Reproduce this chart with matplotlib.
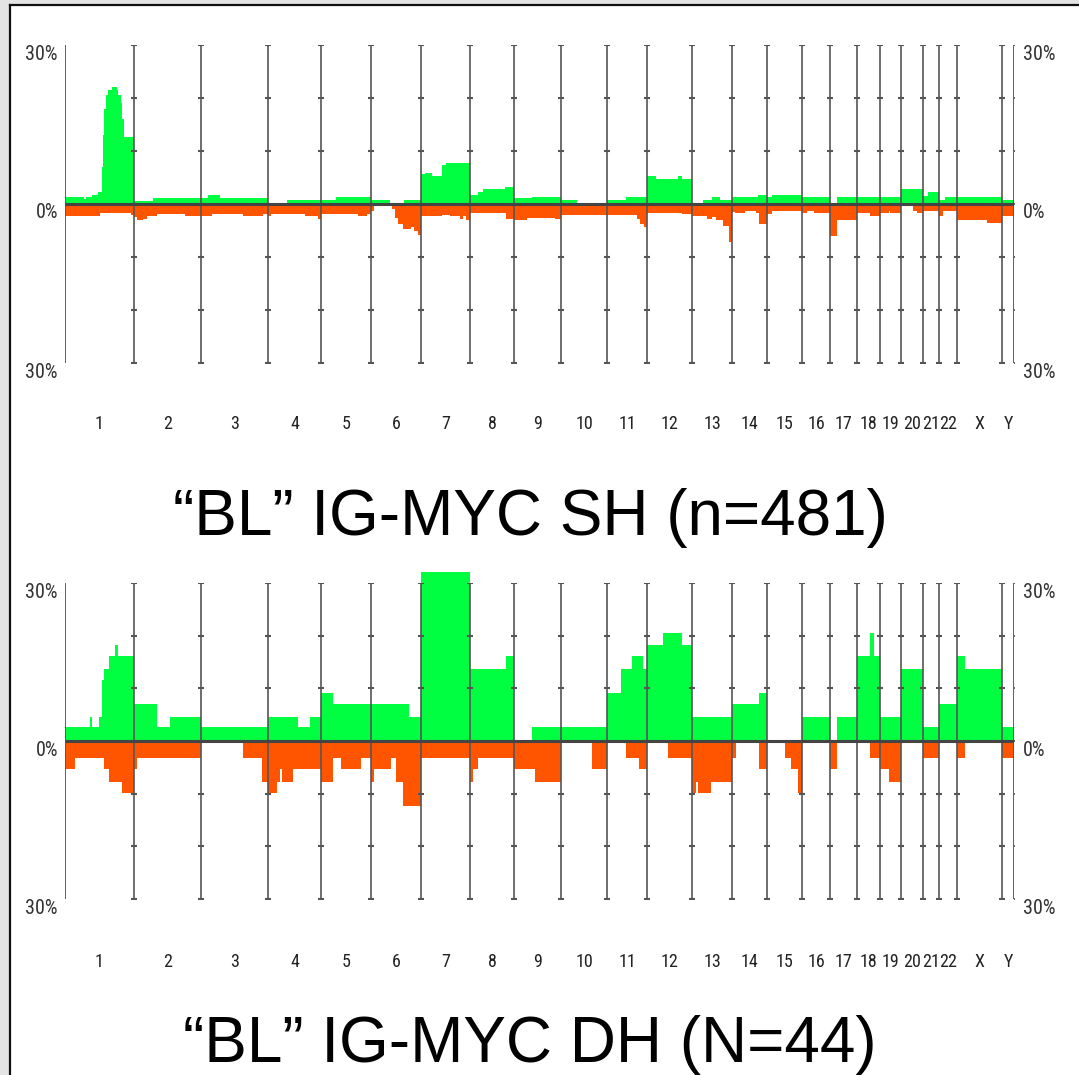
import matplotlib
matplotlib.use('Agg')
import matplotlib.pyplot as plt
import matplotlib.transforms as mtransforms
from matplotlib.patches import Rectangle
from matplotlib.lines import Line2D
import numpy as np

chromosomes = [str(i) for i in range(1, 23)] + ['X', 'Y']
# relative chromosome lengths as drawn in the profile
chrom_len = [69, 67, 67, 53, 50, 50, 49, 44, 47, 46, 40, 45, 40, 35, 35, 28,
             27, 23, 21, 22, 16, 18, 45, 12]

# segments: (start as fraction of chromosome, % of cases)
sh_gain = {
    '1': [(0, 1.25), (0.27, 0.9), (0.30, 1.4), (0.39, 1.75), (0.48, 2.2), (0.53, 7),
          (0.55, 13), (0.567, 18), (0.60, 20.5), (0.63, 21.5), (0.68, 22), (0.75, 21.5),
          (0.77, 20.5), (0.81, 19), (0.83, 16), (0.855, 12.7)],
    '2': [(0, 0.6), (0.29, 1.1)],
    '3': [(0, 1.1), (0.11, 1.7), (0.28, 1.1)],
    '4': [(0, 0), (0.36, 0.75)],
    '5': [(0, 0.75), (0.3, 1.25)],
    '6': [(0, 0.8), (0.39, 0), (0.66, 0.75)],
    '7': [(0, 5.75), (0.08, 5.9), (0.22, 5.2), (0.42, 7.3), (0.52, 7.7)],
    '8': [(0, 1.7), (0.19, 2.2), (0.30, 2.8), (0.8, 3.25)],
    '9': [(0, 1.1), (0.38, 1.25)],
    '10': [(0, 0.75), (0.34, 0.1)],
    '11': [(0, 0.75), (0.48, 1.25)],
    '12': [(0, 5.2), (0.2, 4.7), (0.7, 5.2), (0.78, 4.7)],
    '13': [(0, 0.1), (0.27, 0.75), (0.49, 1.25), (0.7, 0.75)],
    '14': [(0, 1.25), (0.75, 1.75)],
    '15': [(0, 1.25), (0.13, 1.75)],
    '16': [(0, 1.25)],
    '17': [(0, 0.1), (0.26, 1.25)],
    '18': [(0, 1.25)],
    '19': [(0, 1.25)],
    '20': [(0, 2.8)],
    '21': [(0, 1.55), (0.31, 2.3)],
    '22': [(0, 0.75), (0.31, 1.25)],
    'X': [(0, 1.25)],
    'Y': [(0, 0.75)],
}

sh_loss = {
    '1': [(0, 2.2), (0.5, 1.7), (0.95, 2.1)],
    '2': [(0, 2.5), (0.04, 3.1), (0.14, 2.8), (0.19, 2.2), (0.34, 1.9), (0.76, 2.2)],
    '3': [(0, 2.2), (0.16, 1.9), (0.62, 2.2), (0.92, 1.9)],
    '4': [(0, 2.2), (0.065, 1.9), (0.7, 2.3), (0.95, 2.8)],
    '5': [(0, 1.9), (0.75, 2.3), (0.92, 1.9)],
    '6': [(0, 1.25), (0.06, 0), (0.43, 1.0), (0.49, 2.7), (0.55, 3.75), (0.65, 4.7),
          (0.81, 4.4), (0.87, 5.0), (0.94, 5.8)],
    '7': [(0, 2.2), (0.43, 2.1), (0.6, 2.3), (0.8, 2.8), (0.86, 2.3), (0.92, 3.1)],
    '8': [(0, 1.7), (0.82, 2.8)],
    '9': [(0, 3.0), (0.27, 2.6), (0.88, 2.8)],
    '10': [(0, 2.1)],
    '11': [(0, 2.1), (0.75, 2.8), (0.83, 3.75), (0.92, 4.4)],
    '12': [(0, 1.7), (0.77, 1.9)],
    '13': [(0, 2.2), (0.08, 2.3), (0.37, 2.8), (0.49, 2.4), (0.61, 3.0), (0.78, 4.2),
           (0.93, 7.2)],
    '14': [(0, 1.5), (0.09, 1.7), (0.37, 1.25), (0.7, 1.7), (0.78, 3.75)],
    '15': [(0, 1.9), (0.13, 1.25)],
    '16': [(0, 1.7), (0.18, 1.25), (0.42, 1.7)],
    '17': [(0, 6.0), (0.26, 3.1)],
    '18': [(0, 1.7), (0.55, 2.2)],
    '19': [(0, 1.7), (0.41, 1.25), (0.49, 1.7)],
    '20': [(0, 0.1), (0.56, 1.25), (0.71, 1.7)],
    '21': [(0, 1.25)],
    '22': [(0, 2.2), (0.22, 1.25)],
    'X': [(0, 3.1), (0.66, 3.6)],
    'Y': [(0, 2.3), (0.9, 2.8)],
}

dh_gain = {
    '1': [(0, 2.6), (0.356, 4.6), (0.39, 2.6), (0.488, 4.6), (0.537, 11.6), (0.56, 13.6),
          (0.634, 16.2), (0.73, 18.2), (0.77, 16.2)],
    '2': [(0, 7.1), (0.35, 2.6), (0.53, 4.6)],
    '3': [(0, 2.6)],
    '4': [(0, 4.6), (0.56, 2.6), (0.79, 4.6)],
    '5': [(0, 9.2), (0.24, 7.1)],
    '6': [(0, 7.1), (0.76, 4.6)],
    '7': [(0, 32)],
    '8': [(0, 13.6), (0.82, 16.2)],
    '9': [(0, 0), (0.385, 2.6)],
    '10': [(0, 2.6)],
    '11': [(0, 9.2), (0.36, 13.6), (0.62, 16.2), (0.89, 13.6)],
    '12': [(0, 18.2), (0.35, 20.5), (0.78, 18.2)],
    '13': [(0, 4.6)],
    '14': [(0, 7.1), (0.76, 9.2)],
    '15': [(0, 0)],
    '16': [(0, 4.6)],
    '17': [(0, 0), (0.25, 4.6)],
    '18': [(0, 16.2), (0.56, 20.5), (0.76, 16.2)],
    '19': [(0, 4.6)],
    '20': [(0, 13.6)],
    '21': [(0, 2.6)],
    '22': [(0, 7.1)],
    'X': [(0, 16.2), (0.17, 13.6)],
    'Y': [(0, 2.6)],
}

dh_loss = {
    '1': [(0, 5.3), (0.146, 3.3), (0.57, 5.3), (0.634, 7.8), (0.82, 9.9)],
    '2': [(0, 5.3), (0.05, 3.3)],
    '3': [(0, 0), (0.63, 3.3), (0.915, 7.8)],
    '4': [(0, 9.9), (0.17, 7.8), (0.23, 5.3), (0.27, 7.8), (0.47, 5.3)],
    '5': [(0, 7.8), (0.24, 3.3), (0.4, 5.3), (0.81, 3.3)],
    '6': [(0, 7.8), (0.064, 5.3), (0.41, 3.3), (0.51, 7.8), (0.65, 12.3)],
    '7': [(0, 3.3)],
    '8': [(0, 7.8), (0.077, 5.3), (0.19, 3.3)],
    '9': [(0, 5.3), (0.44, 7.8)],
    '10': [(0, 0), (0.68, 5.3)],
    '11': [(0, 0), (0.47, 3.3), (0.8, 5.3)],
    '12': [(0, 0), (0.47, 3.3)],
    '13': [(0, 9.9), (0.1, 7.8), (0.15, 9.9), (0.48, 7.8)],
    '14': [(0, 3.3), (0.12, 0), (0.76, 5.3)],
    '15': [(0, 0), (0.51, 3.3), (0.68, 5.3), (0.89, 9.9)],
    '16': [(0, 0)],
    '17': [(0, 5.3), (0.25, 0)],
    '18': [(0, 0), (0.56, 3.3)],
    '19': [(0, 5.3), (0.42, 7.8)],
    '20': [(0, 0)],
    '21': [(0, 3.3)],
    '22': [(0, 0)],
    'X': [(0, 3.3), (0.17, 0)],
    'Y': [(0, 3.3)],
}

sh_title = '\u201cBL\u201d IG-MYC SH (n=481)'
dh_title = '\u201cBL\u201d IG-MYC DH (N=44)'

GREEN = '#00ff41'
ORANGE = '#ff5500'
GRID = '#555555'
NARROW = ['Roboto Condensed', 'DejaVu Sans']

W, H = 1079, 1075
fig = plt.figure(figsize=(W / 100, H / 100), dpi=100)
fig.patch.set_facecolor('white')

bounds = np.concatenate([[0], np.cumsum(chrom_len)])
total = bounds[-1]
centers = (bounds[:-1] + bounds[1:]) / 2


def steps(profile):
    xs, ys = [], []
    for name, start, size in zip(chromosomes, bounds[:-1], chrom_len):
        for frac, val in profile[name]:
            xs.append(start + frac * size)
            ys.append(val)
    xs.append(total)
    ys.append(ys[-1])
    return np.array(xs), np.array(ys)


def panel(top_px, bottom_px, gain, loss, title, title_px, label_px):
    ax = fig.add_axes([65 / W, 1 - bottom_px / H, (1014 - 65) / W, (bottom_px - top_px) / H])
    ax.set_xlim(0, total)
    ax.set_ylim(-30, 30)
    ax.axis('off')

    x, y = steps(gain)
    g = ax.fill_between(x, 0, y, step='post', color=GREEN, lw=0, zorder=1)
    g.set_clip_on(False)
    x, y = steps(loss)
    l = ax.fill_between(x, 0, -y, step='post', color=ORANGE, lw=0, zorder=1)
    l.set_clip_on(False)

    yt = np.arange(-30, 31, 10)
    inner = bounds[1:-1]
    ax.vlines(inner, -30, 30, color=GRID, lw=1.2, zorder=3)
    for yv in yt:
        ax.plot(inner, np.full(len(inner), yv), ls='none', marker='_', ms=5,
                mew=1.5, color=GRID, zorder=3)
    ax.vlines([0, total], -30, 30, color=GRID, lw=1.3, zorder=3)
    ax.plot(np.zeros(len(yt)), yt, ls='none', marker=0, ms=6, mew=1.3, color=GRID)
    ax.plot(np.full(len(yt), total), yt, ls='none', marker=1, ms=6, mew=1.3, color=GRID)
    ax.hlines(0, 0, total, color='#444444', lw=2.2, zorder=4)

    for yv, lab in [(30, '30%'), (0, '0%'), (-30, '30%')]:
        ax.annotate(lab, xy=(0, yv), xytext=(-7, -9), textcoords='offset pixels',
                    ha='right', va='center', fontsize=14.5, family=NARROW,
                    fontstretch='condensed', color='#333333')
        ax.annotate(lab, xy=(total, yv), xytext=(9, -9), textcoords='offset pixels',
                    ha='left', va='center', fontsize=14.5, family=NARROW,
                    fontstretch='condensed', color='#333333')

    trans = mtransforms.blended_transform_factory(ax.transData, fig.transFigure)
    for c, name in zip(centers, chromosomes):
        ax.text(c, 1 - label_px / H, name, transform=trans, ha='center', va='center',
                fontsize=13, family=NARROW, fontstretch='condensed', color='#222222')

    fig.text(530 / W, 1 - title_px / H, title, ha='center', va='baseline',
             fontsize=46, family=['Liberation Sans', 'DejaVu Sans'], color='black')


panel(45, 363, sh_gain, sh_loss, sh_title, 535, 424)
panel(583, 899, dh_gain, dh_loss, dh_title, 1062, 962)

# grey frame of the original screenshot
fig.patches.append(Rectangle((0, 0), 9 / W, 1, transform=fig.transFigure,
                             facecolor='#e4e4e4', edgecolor='none', zorder=0))
fig.patches.append(Rectangle((0, 1 - 4 / H), 1, 4 / H, transform=fig.transFigure,
                             facecolor='#e4e4e4', edgecolor='none', zorder=0))
fig.add_artist(Line2D([9.5 / W, 9.5 / W], [0, 1 - 4.5 / H], color='#111111', lw=1.6))
fig.add_artist(Line2D([9.5 / W, 1], [1 - 4.5 / H, 1 - 4.5 / H], color='#111111', lw=1.6))

fig.savefig('out.png', dpi=100)
